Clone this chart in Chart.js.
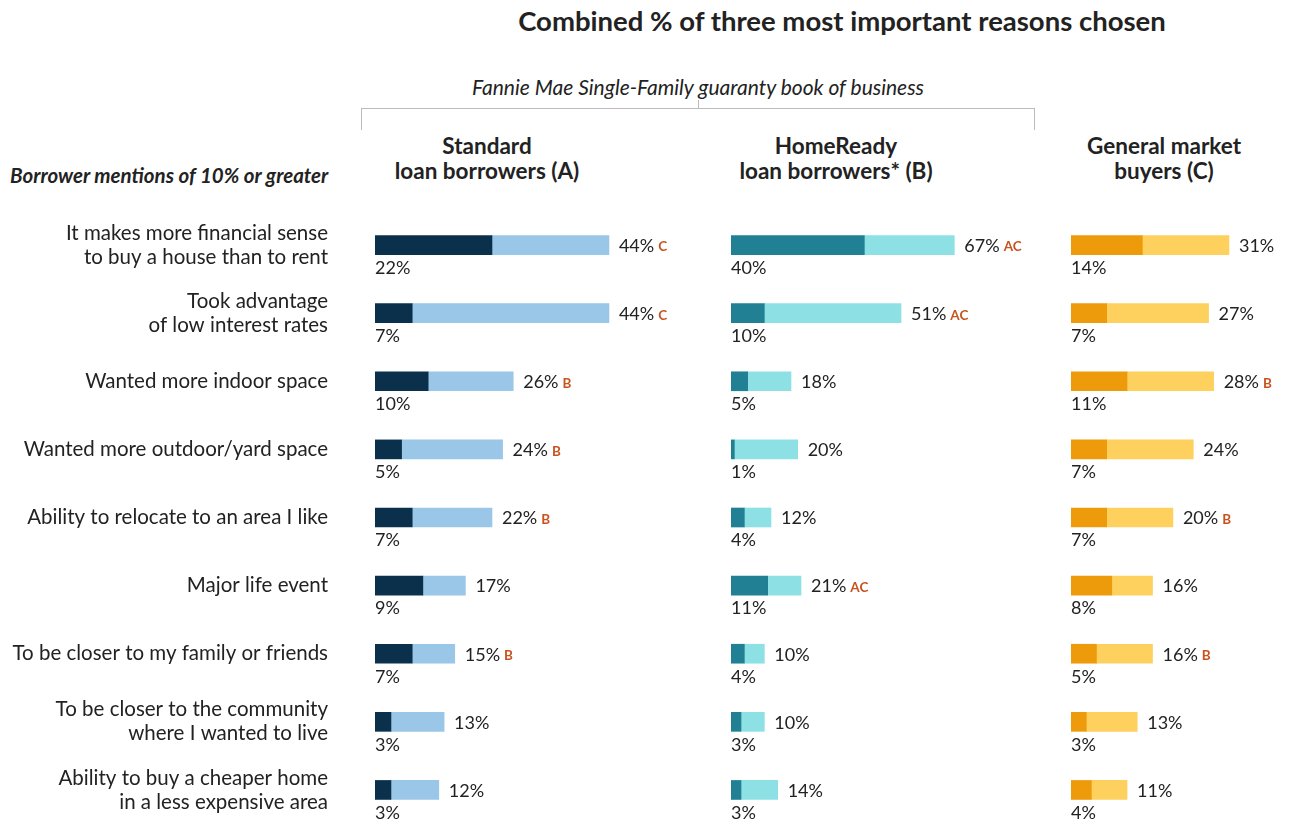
<!DOCTYPE html>
<html>
<head>
<meta charset="utf-8">
<script src="https://cdn.jsdelivr.net/npm/chart.js@4.4.1/dist/chart.umd.min.js"></script>
<style>
  body { margin: 0; background: #fff; font-family: Lato, "Noto Sans", sans-serif; color: #222; }
  #page { position: relative; width: 1289px; height: 824px; overflow: hidden; }
  .txt { position: absolute; white-space: nowrap; line-height: 1; }
  .title { font-size: 27.5px; font-weight: 700; left: 842px; top: 7px; transform: translateX(-50%); }
  .subtitle { font-size: 21px; font-style: italic; left: 698px; top: 76px; transform: translateX(-50%); }
  .colhead { font-size: 22.5px; font-weight: 700; text-align: center; line-height: 25px; top: 133px; transform: translateX(-50%); }
  .rowhead { font-size: 20.5px; font-weight: 700; font-style: italic; left: 10px; top: 165px; }
  .bracket { position: absolute; left: 361px; top: 108px; width: 674px; height: 22px;
             border: 1px solid #bbb; border-bottom: none; box-sizing: border-box; }
  .brtick { position: absolute; left: 698px; top: 100px; width: 1px; height: 8px; background: #bbb; }
  canvas { position: absolute; top: 0; }
</style>
</head>
<body>
<div id="page">
  <div class="txt title">Combined % of three most important reasons chosen</div>
  <div class="txt subtitle">Fannie Mae Single-Family guaranty book of business</div>
  <div class="bracket"></div>
  <div class="brtick"></div>
  <div class="txt colhead" style="left:487px">Standard<br>loan borrowers (A)</div>
  <div class="txt colhead" style="left:836px">HomeReady<br>loan borrowers* (B)</div>
  <div class="txt colhead" style="left:1164px">General market<br>buyers (C)</div>
  <div class="txt rowhead">Borrower mentions of 10% or greater</div>

  <div style="position:absolute;left:0;top:0;width:694px;height:824px"><canvas id="chartA"></canvas></div>
  <div style="position:absolute;left:700px;top:0;width:331px;height:824px"><canvas id="chartB"></canvas></div>
  <div style="position:absolute;left:1050px;top:0;width:235px;height:824px"><canvas id="chartC"></canvas></div>
</div>

<script>
/* ── Data ───────────────────────────────────────────────────── */
const reasons = [
  ["It makes more financial sense", "to buy a house than to rent"],
  ["Took advantage", "of low interest rates"],
  "Wanted more indoor space",
  "Wanted more outdoor/yard space",
  "Ability to relocate to an area I like",
  "Major life event",
  "To be closer to my family or friends",
  ["To be closer to the community", "where I wanted to live"],
  ["Ability to buy a cheaper home", "in a less expensive area"],
];

/* most important reason (dark) and combined top three (total) */
const firstA = [22, 7, 10, 5, 7, 9, 7, 3, 3];
const totalA = [44, 44, 26, 24, 22, 17, 15, 13, 12];
const sigA   = ["C", "C", "B", "B", "B", "", "B", "", ""];

const firstB = [40, 10, 5, 1, 4, 11, 4, 3, 3];
const totalB = [67, 51, 18, 20, 12, 21, 10, 10, 14];
const sigB   = ["AC", "AC", "", "", "", "AC", "", "", ""];

const firstC = [14, 7, 11, 7, 7, 8, 5, 3, 4];
const totalC = [31, 27, 28, 24, 20, 16, 16, 13, 11];
const sigC   = ["", "", "B", "", "B", "", "B", "", ""];

const FONT = "Lato, 'Noto Sans', sans-serif";
const TEXT = "#222";
const SIG_COLOR = "#c8531f";

/* ── Value labels: total at bar end, first choice under the bar ── */
const valueLabels = {
  id: "valueLabels",
  afterDatasetsDraw(chart, args, opts) {
    const { ctx, scales: { x, y } } = chart;
    ctx.save();
    ctx.textBaseline = "middle";
    opts.totals.forEach((t, i) => {
      const cy = y.getPixelForValue(i);
      const tx = x.getPixelForValue(t) + 10;
      ctx.font = "18px " + FONT;
      ctx.fillStyle = TEXT;
      ctx.textAlign = "left";
      ctx.fillText(t + "%", tx, cy + 1);
      const w = ctx.measureText(t + "%").width;
      if (opts.sig[i]) {
        ctx.font = "bold 13.5px " + FONT;
        ctx.fillStyle = SIG_COLOR;
        ctx.fillText(opts.sig[i], tx + w + 4, cy + 2);
      }
      ctx.font = "18px " + FONT;
      ctx.fillStyle = TEXT;
      ctx.fillText(opts.firsts[i] + "%", x.getPixelForValue(0), cy + 23);
    });
    ctx.restore();
  },
};

/* ── Chart builder ──────────────────────────────────────────── */
function renderPanel(id, first, total, sig, dark, light, xMax, padLeft, showLabels) {
  new Chart(document.getElementById(id), {
    type: "bar",
    data: {
      labels: reasons,
      datasets: [
        { data: first, backgroundColor: dark, grouped: false, order: 0 },
        { data: total.map((t, i) => [first[i], t]), backgroundColor: light, grouped: false, order: 1 },
      ],
    },
    options: {
      indexAxis: "y",
      responsive: true,
      maintainAspectRatio: false,
      animation: false,
      datasets: { bar: { barThickness: 19, borderWidth: 0, borderSkipped: false } },
      layout: { padding: { top: 211, left: padLeft, right: 0, bottom: 0 } },
      scales: {
        x: { display: false, min: 0, max: xMax },
        y: {
          display: showLabels,
          grid: { display: false, drawTicks: false },
          border: { display: false },
          ticks: { color: TEXT, padding: 47, font: { family: FONT, size: 20.5, lineHeight: 1.17 } },
          /* fixed label column so the bars start at x = 375 */
          afterFit: (s) => {
            if (!showLabels) return;
            s.width = 375;
            s.paddingTop = 0;
            s.paddingBottom = 0;
          },
        },
      },
      plugins: {
        legend: { display: false },
        tooltip: { enabled: false },
        valueLabels: { totals: total, firsts: first, sig: sig },
      },
    },
    plugins: [valueLabels],
  });
}

renderPanel("chartA", firstA, totalA, sigA, "#0a304b", "#9ac6e7", 60, 0, true);
renderPanel("chartB", firstB, totalB, sigB, "#218093", "#8de1e4", 90, 31, false);
renderPanel("chartC", firstC, totalC, sigC, "#ee9b0b", "#fed15f", 42, 21, false);
</script>
</body>
</html>
